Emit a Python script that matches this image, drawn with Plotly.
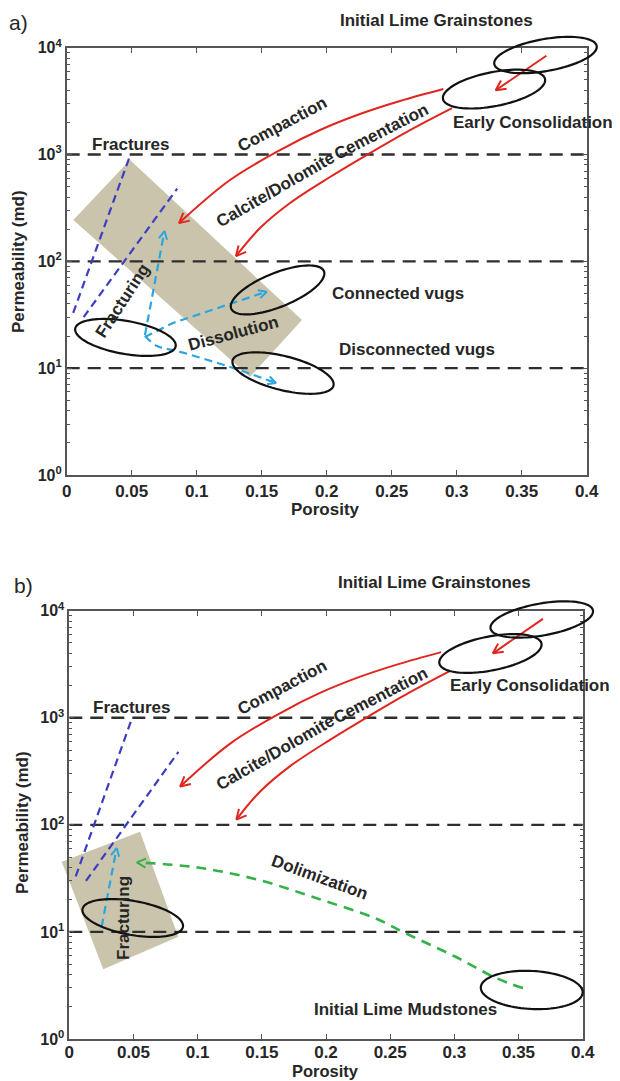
import numpy as np
import plotly.graph_objects as go

W, H = 620, 1081
FONT = "Liberation Sans"
TXT = "#262626"
AX = "#555555"

# ---------------- axes ----------------
X_RANGE = [0.0, 0.4]
LOG_RANGE = [0.0, 4.0]
x_ticks = [0, 0.05, 0.1, 0.15, 0.2, 0.25, 0.3, 0.35, 0.4]
x_ticklabels = ["0", "0.05", "0.1", "0.15", "0.2", "0.25", "0.3", "0.35", "0.4"]
y_ticks = [1, 10, 100, 1000, 10000]
y_ticklabels = ["10<sup>0</sup>", "10<sup>1</sup>", "10<sup>2</sup>", "10<sup>3</sup>", "10<sup>4</sup>"]
y_minor = [m * 10 ** d for d in range(4) for m in range(2, 10)]

# plot frames in pixels: left, right, top, bottom
FRAME_A = (66.7, 586.7, 47.7, 475.0)
FRAME_B = (69.3, 582.7, 610.7, 1039.0)

# ---------------- data ----------------
threshold_perm = [10, 100, 1000]

# open fractures
frac1_phi, frac1_k = [0.005, 0.049], [33, 1000]
frac2_phi, frac2_k = [0.013, 0.085], [30, 480]

# grainstone -> early consolidation
consol_phi, consol_k = [0.369, 0.330], [8400, 4000]

# compaction path
compaction_phi = [0.2897, 0.2564, 0.2256, 0.1949, 0.1641, 0.1256, 0.0864]
compaction_k = [4105, 3170, 2394, 1696, 1102, 577, 228]

# calcite/dolomite cementation path
cement_phi = [0.2964, 0.2641, 0.2333, 0.2025, 0.1718, 0.1487, 0.1302]
cement_k = [2725, 1696, 1033, 616, 352, 205, 112]

# panel a: fracturing / dissolution paths
fract_a_phi, fract_a_k = [0.0602, 0.0752], [20.4, 192]
conn_phi, conn_k = [0.0602, 0.0818, 0.1538], [19.6, 26.5, 52]
disc_phi = [0.0602, 0.0695, 0.0848, 0.1256, 0.161]
disc_k = [20.0, 16.1, 14.5, 10.26, 7.26]

# panel b: fracturing and dolomitization paths
fract_b_phi, fract_b_k = [0.0252, 0.0369], [11.2, 60.7]
dolo_phi = [0.3535, 0.3325, 0.3013, 0.2616, 0.2397, 0.1934, 0.147, 0.1003, 0.0527]
dolo_k = [2.99, 3.71, 5.83, 9.77, 13.2, 20.5, 30.7, 39.9, 44.6]

# shaded zones (corner porosity / permeability)
zone_a_phi = [0.0487, 0.181, 0.141, 0.0051]
zone_a_k = [889, 28.2, 8.27, 244]
zone_b_phi = [0.0551, 0.0849, 0.0265, -0.0059]
zone_b_k = [86.3, 9.02, 4.48, 45.3]

# rock-type ellipses: centre porosity / permeability
ell_a_phi = [0.3683, 0.3287, 0.1622, 0.1664, 0.0452]
ell_a_k = [8540, 4100, 54, 9.0, 19.4]
ell_b_phi = [0.3681, 0.3281, 0.3603, 0.0494]
ell_b_k = [8280, 3985, 2.87, 13.5]
# ellipse geometry in pixels: semi-major, semi-minor, tilt (deg)
ell_a_geom = [(52, 16, 10), (52, 17, 11), (50, 17, 22), (52, 17, -14), (51, 16.5, -10)]
ell_b_geom = [(52, 16, 10), (52, 17, 11), (51, 19, -3), (51, 17, -10)]

RED = "#e0261e"
BLUE = "#3d3dc4"
CYAN = "#2ba6dc"
GREEN = "#34b24a"
TAN = "#c9c4ab"


def to_px(phi, k, frame):
    left, right, top, bottom = frame
    x = left + (phi - X_RANGE[0]) / (X_RANGE[1] - X_RANGE[0]) * (right - left)
    y = bottom - (np.log10(k) - LOG_RANGE[0]) / (LOG_RANGE[1] - LOG_RANGE[0]) * (bottom - top)
    return x, y


def from_px(x, y, frame):
    left, right, top, bottom = frame
    phi = X_RANGE[0] + (x - left) / (right - left) * (X_RANGE[1] - X_RANGE[0])
    lk = LOG_RANGE[0] + (bottom - y) / (bottom - top) * (LOG_RANGE[1] - LOG_RANGE[0])
    return phi, 10 ** lk


def to_dom(phi, k):
    fx = (phi - X_RANGE[0]) / (X_RANGE[1] - X_RANGE[0])
    fy = (np.log10(k) - LOG_RANGE[0]) / (LOG_RANGE[1] - LOG_RANGE[0])
    return fx, fy


def ellipse_path(cphi, ck, geom, frame):
    a, b, ang = geom
    left, right, top, bottom = frame
    w, h = right - left, bottom - top
    fx0, fy0 = to_dom(cphi, ck)
    t = np.linspace(0, 2 * np.pi, 97)
    th = np.radians(ang)
    dx = a * np.cos(t) * np.cos(th) - b * np.sin(t) * np.sin(th)
    dy = a * np.cos(t) * np.sin(th) + b * np.sin(t) * np.cos(th)
    fx = fx0 + dx / w
    fy = fy0 + dy / h
    pts = [f"{x:.5f},{y:.5f}" for x, y in zip(fx, fy)]
    return "M" + " L".join(pts) + " Z"


def polygon_path(phis, ks):
    pts = [to_dom(p, k) for p, k in zip(phis, ks)]
    return "M" + " L".join(f"{x:.5f},{y:.5f}" for x, y in pts) + " Z"


fig = go.Figure()


def line(phi, k, color, width, dash, xa, ya, shape="linear"):
    fig.add_trace(go.Scatter(
        x=phi, y=k, mode="lines", xaxis=xa, yaxis=ya, showlegend=False,
        hoverinfo="skip",
        line=dict(color=color, width=width, dash=dash, shape=shape, smoothing=1.0),
    ))


def arrow_head(phi, k, color, frame, xa, ya, length=11, half=27, width=2.0):
    """Open V-shaped head at the last point, aligned with the last segment."""
    x1, y1 = to_px(phi[-1], k[-1], frame)
    x0, y0 = to_px(phi[-2], k[-2], frame)
    ang = np.arctan2(y1 - y0, x1 - x0)
    xs, ys = [], []
    for s in (1, None, -1):
        if s is None:
            px, py = x1, y1
        else:
            a = ang + np.pi + s * np.radians(half)
            px, py = x1 + length * np.cos(a), y1 + length * np.sin(a)
        p, kk = from_px(px, py, frame)
        xs.append(p)
        ys.append(kk)
    line(xs, ys, color, width, "solid", xa, ya)


annotations = []
shapes = []


def label(text, phi, k, xa, ya, angle=0, size=17):
    fx, fy = to_dom(phi, k)
    annotations.append(dict(
        x=fx, y=fy, xref=f"{xa} domain", yref=f"{ya} domain", text=f"<b>{text}</b>",
        showarrow=False, textangle=angle, xanchor="center", yanchor="middle",
        font=dict(family=FONT, size=size, color=TXT),
    ))


panels = [
    ("x", "y", FRAME_A),
    ("x2", "y2", FRAME_B),
]

for idx, (xa, ya, frame) in enumerate(panels):
    # shaded zone
    zphi, zk = (zone_a_phi, zone_a_k) if idx == 0 else (zone_b_phi, zone_b_k)
    shapes.append(dict(type="path", xref=f"{xa} domain", yref=f"{ya} domain",
                       path=polygon_path(zphi, zk), fillcolor=TAN,
                       line=dict(width=0), layer="below"))

    # permeability thresholds
    for kv in threshold_perm:
        line([X_RANGE[0], X_RANGE[1]], [kv, kv], "#2e2e2e", 2.4, "13px,8px", xa, ya)

    # fractures
    line(frac1_phi, frac1_k, BLUE, 2.2, "8px,5px", xa, ya)
    line(frac2_phi, frac2_k, BLUE, 2.2, "8px,5px", xa, ya)

    # diagenetic paths
    line(consol_phi, consol_k, RED, 2, "solid", xa, ya)
    arrow_head(consol_phi, consol_k, RED, frame, xa, ya)
    line(compaction_phi, compaction_k, RED, 2, "solid", xa, ya, "spline")
    arrow_head(compaction_phi, compaction_k, RED, frame, xa, ya)
    line(cement_phi, cement_k, RED, 2, "solid", xa, ya, "spline")
    arrow_head(cement_phi, cement_k, RED, frame, xa, ya)

    if idx == 0:
        line(fract_a_phi, fract_a_k, CYAN, 2.2, "8px,5px", xa, ya)
        arrow_head(fract_a_phi, fract_a_k, CYAN, frame, xa, ya, length=9)
        line(conn_phi, conn_k, CYAN, 2.2, "8px,5px", xa, ya)
        arrow_head(conn_phi, conn_k, CYAN, frame, xa, ya, length=9)
        line(disc_phi, disc_k, CYAN, 2.2, "8px,5px", xa, ya, "spline")
        arrow_head(disc_phi, disc_k, CYAN, frame, xa, ya, length=9)
        for cp, ck, g in zip(ell_a_phi, ell_a_k, ell_a_geom):
            shapes.append(dict(type="path", xref=f"{xa} domain", yref=f"{ya} domain",
                               path=ellipse_path(cp, ck, g, frame),
                               line=dict(color="#111111", width=2.2), layer="above"))
    else:
        line(fract_b_phi, fract_b_k, CYAN, 2.2, "8px,5px", xa, ya)
        arrow_head(fract_b_phi, fract_b_k, CYAN, frame, xa, ya, length=9)
        line(dolo_phi, dolo_k, GREEN, 2.6, "10px,7px", xa, ya, "spline")
        arrow_head(dolo_phi, dolo_k, GREEN, frame, xa, ya, length=10)
        for cp, ck, g in zip(ell_b_phi, ell_b_k, ell_b_geom):
            shapes.append(dict(type="path", xref=f"{xa} domain", yref=f"{ya} domain",
                               path=ellipse_path(cp, ck, g, frame),
                               line=dict(color="#111111", width=2.2), layer="above"))

    # shared labels
    label("Initial Lime Grainstones", 0.2846, 18150, xa, ya)
    label("Early Consolidation", 0.3587, 1985, xa, ya)
    label("Fractures", 0.0487, 1253, xa, ya)
    label("Compaction", 0.1656, 1930, xa, ya, angle=-28)
    label("Calcite/Dolomite", 0.1608, 469, xa, ya, angle=-30)
    label("Cementation", 0.2423, 1626, xa, ya, angle=-27)

    if idx == 0:
        label("Connected vugs", 0.2551, 50.2, xa, ya)
        label("Disconnected vugs", 0.2692, 14.8, xa, ya)
        label("Dissolution", 0.1282, 21.2, xa, ya, angle=-15)
        label("Fracturing", 0.0429, 43.4, xa, ya, angle=-57)
    else:
        label("Dolimization", 0.1953, 31.9, xa, ya, angle=20)
        label("Initial Lime Mudstones", 0.2616, 1.87, xa, ya)
        label("Fracturing", 0.0421, 13.6, xa, ya, angle=-90)


def paper_text(text, px, py, size=17, angle=0, bold=True, yanchor="middle"):
    annotations.append(dict(
        x=px / W, y=1 - py / H, xref="paper", yref="paper",
        text=f"<b>{text}</b>" if bold else text, showarrow=False,
        textangle=angle, xanchor="center", yanchor=yanchor, borderpad=0,
        font=dict(family=FONT, size=size, color=TXT),
    ))


paper_text("Porosity", 325, 509.5)
paper_text("Porosity", 325, 1081, size=16.5, yanchor="bottom")
paper_text("Permeability (md)", 19, 262, angle=-90)
paper_text("Permeability (md)", 22, 823, angle=-90)
paper_text("a)", 18, 22, size=21, bold=False)
paper_text("b)", 23, 585, size=21, bold=False)


def x_axis(frame, anchor, standoff=0):
    left, right, top, bottom = frame
    return dict(
        domain=[left / W, right / W], anchor=anchor, range=X_RANGE,
        tickmode="array", tickvals=x_ticks,
        ticktext=[f"<b>{t}</b>" for t in x_ticklabels],
        ticks="inside", ticklen=5, tickwidth=1.2, tickcolor=AX,
        ticklabelstandoff=standoff,
        showline=True, linecolor=AX, linewidth=1.6, mirror="ticks",
        showgrid=False, zeroline=False, automargin=False,
        tickfont=dict(family=FONT, size=17, color=TXT),
    )


def y_axis(frame, anchor):
    left, right, top, bottom = frame
    return dict(
        type="log", domain=[1 - bottom / H, 1 - top / H], anchor=anchor,
        range=LOG_RANGE, tickmode="array", tickvals=y_ticks,
        ticktext=[f"<b>{t}</b>" for t in y_ticklabels],
        ticks="inside", ticklen=5, tickwidth=1.2, tickcolor=AX,
        minor=dict(tickmode="array", tickvals=y_minor, ticks="inside",
                   ticklen=3, tickcolor=AX, tickwidth=1, showgrid=False),
        showline=True, linecolor=AX, linewidth=1.6, mirror="ticks",
        showgrid=False, zeroline=False, automargin=False,
        tickfont=dict(family=FONT, size=16, color=TXT),
    )


fig.update_layout(
    width=W, height=H, margin=dict(l=0, r=0, t=0, b=0),
    paper_bgcolor="white", plot_bgcolor="white",
    xaxis=x_axis(FRAME_A, "y"), yaxis=y_axis(FRAME_A, "x"),
    xaxis2=x_axis(FRAME_B, "y2", standoff=-3), yaxis2=y_axis(FRAME_B, "x2"),
    shapes=shapes, annotations=annotations, showlegend=False,
)

fig.write_html("out.html")
